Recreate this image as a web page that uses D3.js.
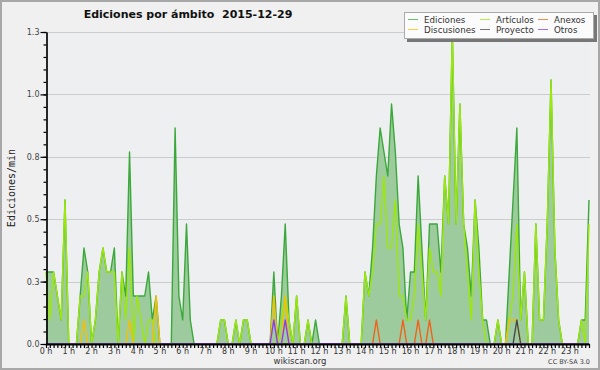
<!DOCTYPE html>
<html>
<head>
<meta charset="utf-8">
<script src="https://d3js.org/d3.v7.min.js"></script>
<style>
  body { margin: 0; background: #f0f0f0; }
  text { font-family: "DejaVu Sans", sans-serif; white-space: pre; }
</style>
</head>
<body>
<div id="chart"></div>
<script>
// edits per minute, one value per 10-minute bin (0h00 .. 23h50)
const ediciones = [
  0.3,0.3,0.3,0.2,0.1,0.6, 0,0,0,0.2,0.4,0.3,
  0,0.1,0.3,0.4,0.3,0.3, 0.4,0,0.3,0.2,0.8,0.2,
  0.2,0.2,0.2,0.3,0.1,0.2, 0,0,0,0,0.9,0.2,
  0.1,0.5,0.1,0,0,0, 0,0,0,0,0.1,0.1,
  0,0,0.1,0,0.1,0.1, 0,0,0,0,0,0,
  0.3,0,0.2,0.5,0.1,0, 0.2,0,0,0.1,0,0.1,
  0,0,0,0,0,0, 0,0.2,0,0,0,0,
  0.3,0.2,0.4,0.7,0.9,0.8, 0.7,1.0,0.8,0.5,0.4,0.1,
  0.3,0.3,0.7,0.4,0.1,0.5, 0.5,0.5,0.3,0.7,0.5,1.3,
  0.5,1.0,0.5,0.4,0.2,0.6, 0.4,0.1,0.1,0,0,0.1,
  0,0,0.3,0.6,0.9,0.1, 0.3,0,0,0.5,0.1,0.1,
  0.5,1.1,0.4,0.1,0,0, 0,0,0,0.1,0.1,0.6
];
const articulos = [
  0.3,0.1,0.3,0.2,0.1,0.6, 0,0,0,0.2,0.2,0.3,
  0,0.1,0.3,0.4,0.3,0.3, 0.3,0,0.3,0.1,0.4,0,
  0.2,0.1,0,0.1,0.1,0, 0,0,0,0,0,0,
  0,0,0,0,0,0, 0,0,0,0,0.1,0.1,
  0,0,0.1,0,0.1,0.1, 0,0,0,0,0,0,
  0,0,0.1,0.2,0.1,0, 0.2,0,0,0.1,0,0,
  0,0,0,0,0,0, 0,0.2,0,0,0,0,
  0.3,0.2,0.3,0.5,0.5,0.7, 0.4,0.4,0.6,0.2,0.2,0.1,
  0.1,0.2,0.5,0.3,0.1,0.4, 0.3,0.3,0.2,0.7,0.5,1.3,
  0.5,1.0,0.5,0.3,0.1,0.6, 0.3,0.1,0,0,0,0.1,
  0,0,0.1,0.2,0.5,0.1, 0.3,0,0,0.5,0.1,0.1,
  0.5,1.1,0.4,0.1,0,0, 0,0,0,0.1,0,0.5
];
const anexos = [
  0,0,0,0,0,0, 0,0,0,0,0,0,
  0,0,0,0,0,0, 0,0,0,0,0,0,
  0,0,0,0,0,0, 0,0,0,0,0,0,
  0,0,0,0,0,0, 0,0,0,0,0,0,
  0,0,0,0,0,0, 0,0,0,0,0,0,
  0,0,0,0,0,0, 0,0,0,0,0,0,
  0,0,0,0,0,0, 0,0,0,0,0,0,
  0,0,0,0.1,0,0, 0,0,0,0,0.1,0,
  0,0,0.1,0,0,0.1, 0,0,0,0,0,0,
  0,0,0,0,0,0, 0,0,0,0,0,0,
  0,0,0,0,0,0, 0,0,0,0,0,0,
  0,0,0,0,0,0, 0,0,0,0,0,0
];
const discusiones = [
  0,0,0,0,0,0, 0,0,0,0,0.1,0,
  0,0,0,0,0,0, 0,0,0,0,0.1,0,
  0,0,0,0,0,0.2, 0,0,0,0,0,0,
  0,0,0,0,0,0, 0,0,0,0,0,0,
  0,0,0,0,0,0, 0,0,0,0,0,0,
  0.2,0,0,0.2,0,0, 0,0,0,0,0,0,
  0,0,0,0,0,0, 0,0,0,0,0,0,
  0,0,0,0,0,0, 0,0,0,0,0,0,
  0,0,0,0,0,0, 0,0,0,0,0,0,
  0,0,0,0,0,0, 0,0,0,0,0,0,
  0,0,0.1,0.1,0.1,0, 0,0,0,0,0,0,
  0,0,0,0,0,0, 0,0,0,0,0,0
];
const proyecto = [
  0,0,0,0,0,0, 0,0,0,0,0,0,
  0,0,0,0,0,0, 0,0,0,0,0,0,
  0,0,0,0,0,0, 0,0,0,0,0,0,
  0,0,0,0,0,0, 0,0,0,0,0,0,
  0,0,0,0,0,0, 0,0,0,0,0,0,
  0,0,0,0,0,0, 0,0,0,0,0,0,
  0,0,0,0,0,0, 0,0,0,0,0,0,
  0,0,0,0,0,0, 0,0,0,0,0,0,
  0,0,0,0,0,0, 0,0,0,0,0,0,
  0,0,0,0,0,0, 0,0,0,0,0,0,
  0,0,0,0,0.1,0, 0,0,0,0,0,0,
  0,0,0,0,0,0, 0,0,0,0,0,0
];
const otros = [
  0,0,0,0,0,0, 0,0,0,0,0,0,
  0,0,0,0,0,0, 0,0,0,0,0,0,
  0,0,0,0,0,0, 0,0,0,0,0,0,
  0,0,0,0,0,0, 0,0,0,0,0,0,
  0,0,0,0,0,0, 0,0,0,0,0,0,
  0.1,0,0,0.1,0,0, 0,0,0,0,0,0,
  0,0,0,0,0,0, 0,0,0,0,0,0,
  0,0,0,0,0,0, 0,0,0,0,0,0,
  0,0,0,0,0,0, 0,0,0,0,0,0,
  0,0,0,0,0,0, 0,0,0,0,0,0,
  0,0,0,0,0,0, 0,0,0,0,0,0,
  0,0,0,0,0,0, 0,0,0,0,0,0
];

const hourLabels = ["0 h","1 h","2 h","3 h","4 h","5 h","6 h","7 h","8 h","9 h","10 h","11 h",
  "12 h","13 h","14 h","15 h","16 h","17 h","18 h","19 h","20 h","21 h","22 h","23 h"];
const yTicks = [0, 0.26, 0.52, 0.78, 1.04, 1.3];
const yMax = 1.3;

const seriesNames = ["Ediciones", "Artículos", "Anexos", "Discusiones", "Proyecto", "Otros"];
const seriesColors = ["#3aa83a", "#9be80a", "#f0621a", "#f5c000", "#474747", "#8a3cf0"];
const seriesData = [ediciones, articulos, anexos, discusiones, proyecto, otros];

var width = 600;
var height = 370;

var svg = d3.select("#chart")
  .append("svg")
  .attr("width", width)
  .attr("height", height);

// frame
svg.append("rect")
  .attr("x", 1).attr("y", 1)
  .attr("width", width - 2).attr("height", height - 2)
  .attr("fill", "#f0f0f0")
  .attr("stroke", "#a8a8a8")
  .attr("stroke-width", 2);

var plotLeft = 46, plotRight = 590, plotTop = 32, plotBottom = 344;

var x = d3.scaleLinear().domain([0, ediciones.length - 1]).range([plotLeft, plotRight - 1]);
var y = d3.scaleLinear().domain([0, yMax]).range([plotBottom, plotTop]);

svg.append("rect")
  .attr("x", plotLeft).attr("y", plotTop)
  .attr("width", plotRight - plotLeft).attr("height", plotBottom - plotTop)
  .attr("fill", "#eeeff1");

// grid
svg.selectAll(".grid")
  .data(yTicks.filter(d => d > 0))
  .enter()
  .append("line")
  .attr("x1", plotLeft).attr("x2", plotRight)
  .attr("y1", d => Math.round(y(d)) + 0.5)
  .attr("y2", d => Math.round(y(d)) + 0.5)
  .attr("stroke", "#cccccc");

// total area
var area = d3.area()
  .x((d, i) => x(i))
  .y0(plotBottom)
  .y1(d => y(d));

svg.append("path")
  .datum(ediciones)
  .attr("d", area)
  .attr("fill", "#9dcb9d");

var line = d3.line()
  .x((d, i) => x(i))
  .y(d => y(d));

seriesData.forEach(function (s, k) {
  svg.append("path")
    .datum(s)
    .attr("d", line)
    .attr("fill", "none")
    .attr("stroke", seriesColors[k])
    .attr("stroke-width", 1.4)
    .attr("stroke-linejoin", "round");
});

// y axis (drawn over the series so zero lines stay hidden)
var minorTicks = d3.range(0, yMax + 0.001, yMax / 25);
svg.append("g")
  .attr("transform", "translate(" + (plotLeft + 0.5) + ",0)")
  .call(d3.axisLeft(y).tickValues(minorTicks).tickSize(3).tickSizeOuter(0).tickFormat(""));
var yAxis = svg.append("g")
  .attr("transform", "translate(" + (plotLeft + 0.5) + ",0)")
  .call(d3.axisLeft(y).tickValues(yTicks).tickSize(6).tickSizeOuter(0).tickFormat(d3.format(".1f")));
yAxis.selectAll("text")
  .attr("x", -7)
  .style("font-size", "8px")
  .style("fill", "#444");

// x axis
var xAxis = svg.append("g")
  .attr("transform", "translate(0," + plotBottom + ")")
  .call(d3.axisBottom(x).tickValues(d3.range(ediciones.length)).tickSize(4).tickSizeOuter(0).tickFormat(""));
svg.selectAll(".domain, .tick line").attr("stroke", "#000").attr("stroke-width", 1.2);
xAxis.select(".domain").attr("stroke-width", 2);

svg.selectAll(".hour")
  .data(hourLabels)
  .enter()
  .append("text")
  .attr("x", (d, i) => x(i * 6))
  .attr("y", 354)
  .attr("text-anchor", "middle")
  .style("font-size", "8px")
  .style("fill", "#333")
  .text(d => d);

// titles
svg.append("text")
  .attr("x", 188).attr("y", 18)
  .attr("text-anchor", "middle")
  .style("font-size", "11px")
  .style("font-weight", "bold")
  .style("fill", "#111")
  .text("Ediciones por ámbito  2015-12-29");

svg.append("text")
  .attr("transform", "translate(15,188) rotate(-90)")
  .attr("text-anchor", "middle")
  .style("font-family", "'DejaVu Sans Mono', monospace")
  .style("font-size", "10px")
  .style("fill", "#222")
  .text("Ediciones/min");

svg.append("text")
  .attr("x", 300).attr("y", 364)
  .attr("text-anchor", "middle")
  .style("font-size", "8.5px")
  .style("fill", "#333")
  .text("wikiscan.org");

svg.append("text")
  .attr("x", 590).attr("y", 364)
  .attr("text-anchor", "end")
  .style("font-size", "6.5px")
  .style("fill", "#444")
  .text("CC BY-SA 3.0");

// legend
var lg = svg.append("g");
lg.append("rect")
  .attr("x", 407).attr("y", 15)
  .attr("width", 190).attr("height", 27)
  .attr("fill", "#777");
lg.append("rect")
  .attr("x", 404.5).attr("y", 12.5)
  .attr("width", 189).attr("height", 26)
  .attr("fill", "#fbfbfb")
  .attr("stroke", "#aaa");

var colX = [408, 480, 538];
var rowY = [19, 29];
seriesNames.forEach(function (name, k) {
  var cx = colX[k % 3], cy = rowY[Math.floor(k / 3)];
  lg.append("line")
    .attr("x1", cx).attr("x2", cx + 10)
    .attr("y1", cy + 0.5).attr("y2", cy + 0.5)
    .attr("stroke", seriesColors[k])
    .attr("stroke-opacity", 0.75);
  lg.append("text")
    .attr("x", cx + 16).attr("y", cy + 3.5)
    .style("font-size", "8.7px")
    .style("fill", "#333")
    .text(name);
});
</script>
</body>
</html>
